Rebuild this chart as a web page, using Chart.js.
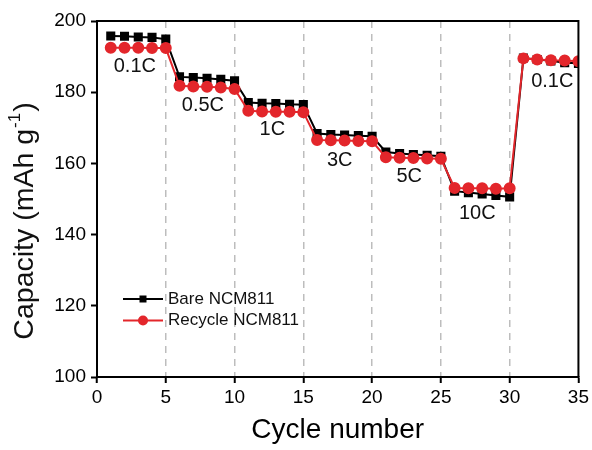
<!DOCTYPE html>
<html>
<head>
<meta charset="utf-8">
<script src="https://cdn.jsdelivr.net/npm/chart.js@4.4.1/dist/chart.umd.min.js"></script>
<style>
  html, body { margin: 0; padding: 0; background: #fff; }
  #wrap { width: 592px; height: 450px; position: relative; }
</style>
</head>
<body>
<div id="wrap"><canvas id="rateChart"></canvas></div>
<script>
// rate capability data
const cycles = [1,2,3,4,5,6,7,8,9,10,11,12,13,14,15,16,17,18,19,20,21,22,23,24,25,26,27,28,29,30,31,32,33,34,35];
const bareNCM811 = [
  195.8,195.7,195.5,195.4,194.9,
  184.3,184.1,183.9,183.6,183.2,
  177.1,176.9,176.8,176.6,176.5,
  168.4,168.1,168.0,167.8,167.6,
  163.2,162.8,162.5,162.3,162.0,
  152.2,151.8,151.4,151.0,150.6,
  189.6,189.2,188.8,188.3,188.1
];
const recycleNCM811 = [
  192.5,192.5,192.5,192.4,192.4,
  181.8,181.6,181.5,181.3,180.9,
  174.8,174.6,174.5,174.5,174.4,
  166.6,166.5,166.4,166.3,166.2,
  161.7,161.6,161.5,161.4,161.3,
  153.1,153.0,153.0,152.9,153.0,
  189.5,189.2,189.0,188.9,188.7
];
const rateLabels = ['0.1C','0.5C','1C','3C','5C','10C','0.1C'];
const rateLabelX = [2.75, 7.7, 12.75, 17.65, 22.7, 27.65, 33.1];
const rateLabelY = [187.2, 176.4, 169.6, 160.9, 156.3, 145.8, 182.9];
const seriesNames = ['Bare NCM811', 'Recycle NCM811'];
const xTicks = [0,5,10,15,20,25,30,35];
const yTicks = [100,120,140,160,180,200];

const FONT = "'Liberation Sans', Arial, sans-serif";
const RED = '#e3262b';

const extras = {
  id: 'extras',
  afterDraw(chart) {
    const ctx = chart.ctx, a = chart.chartArea;
    const xs = chart.scales.x, ys = chart.scales.y;
    ctx.save();
    // top + right frame
    ctx.strokeStyle = '#000'; ctx.lineWidth = 2;
    ctx.beginPath();
    ctx.moveTo(a.left, a.top); ctx.lineTo(a.right, a.top); ctx.lineTo(a.right, a.bottom);
    ctx.stroke();

    // C-rate labels
    ctx.fillStyle = '#111';
    ctx.font = '20px ' + FONT;
    ctx.textAlign = 'center'; ctx.textBaseline = 'middle';
    rateLabels.forEach((t, i) => {
      ctx.fillText(t, xs.getPixelForValue(rateLabelX[i]), ys.getPixelForValue(rateLabelY[i]));
    });

    // legend
    const lx = 123, lw = 40;
    const rows = [{y: 299, color: '#000', pt: 'rect'}, {y: 320.5, color: RED, pt: 'circle'}];
    rows.forEach((r, i) => {
      ctx.strokeStyle = r.color; ctx.lineWidth = 2;
      ctx.beginPath(); ctx.moveTo(lx, r.y); ctx.lineTo(lx + lw, r.y); ctx.stroke();
      ctx.fillStyle = r.color;
      if (r.pt === 'rect') ctx.fillRect(lx + lw/2 - 3.5, r.y - 3.5, 7, 7);
      else { ctx.beginPath(); ctx.arc(lx + lw/2, r.y, 5, 0, Math.PI*2); ctx.fill(); }
      ctx.fillStyle = '#111';
      ctx.font = '17px ' + FONT;
      ctx.textAlign = 'left';
      ctx.fillText(seriesNames[i], lx + lw + 5, r.y);
    });

    // y axis title with superscript
    ctx.translate(23, 221);
    ctx.rotate(-Math.PI/2);
    const big = '28.5px ' + FONT, small = '17px ' + FONT;
    const p1 = 'Capacity (mAh g', sup = '-1', p2 = ')';
    ctx.font = big; const w1 = ctx.measureText(p1).width, w3 = ctx.measureText(p2).width;
    ctx.font = small; const w2 = ctx.measureText(sup).width;
    let x0 = -(w1 + w2 + w3 + 2) / 2;
    ctx.textAlign = 'left'; ctx.textBaseline = 'alphabetic';
    ctx.fillStyle = '#111';
    ctx.font = big; ctx.fillText(p1, x0, 10);
    ctx.font = small; ctx.fillText(sup, x0 + w1 + 1, -3);
    ctx.font = big; ctx.fillText(p2, x0 + w1 + w2 + 2, 10);
    ctx.restore();
  }
};

new Chart(document.getElementById('rateChart'), {
  type: 'line',
  data: {
    labels: cycles,
    datasets: [
      {
        label: seriesNames[0], data: bareNCM811.map((v, i) => ({x: cycles[i], y: v})),
        borderColor: '#000', backgroundColor: '#000', borderWidth: 2,
        pointStyle: 'rect', pointRadius: 5, pointHoverRadius: 5, order: 2, clip: 0
      },
      {
        label: seriesNames[1], data: recycleNCM811.map((v, i) => ({x: cycles[i], y: v})),
        borderColor: RED, backgroundColor: RED, borderWidth: 2,
        pointStyle: 'circle', pointRadius: 5, pointHoverRadius: 5, order: 1, clip: 0
      }
    ]
  },
  options: {
    responsive: true, maintainAspectRatio: false, animation: false,
    layout: { padding: { left: 0, right: 12.5, top: 21, bottom: 0 } },
    plugins: { legend: { display: false }, tooltip: { enabled: false } },
    scales: {
      x: {
        type: 'linear', min: 0, max: 35,
        afterBuildTicks: s => { s.ticks = xTicks.map(v => ({value: v})); },
        afterFit: s => { s.height = 73; },
        ticks: { color: '#000', font: { family: FONT, size: 19 }, padding: 3, maxRotation: 0 },
        grid: {
          color: c => (c.tick && c.tick.value > 0 && c.tick.value < 35) ? '#bdbdbd' : 'rgba(0,0,0,0)',
          lineWidth: 1.5, tickColor: '#000', tickWidth: 2, tickLength: 6
        },
        border: { color: '#000', width: 2, dash: [7, 6] },
        title: { display: true, text: 'Cycle number', color: '#000', font: { family: FONT, size: 28 }, padding: { top: 0, bottom: 3 } }
      },
      y: {
        min: 100, max: 200,
        afterBuildTicks: s => { s.ticks = yTicks.map(v => ({value: v})); },
        afterFit: s => { s.width = 97; },
        ticks: { color: '#000', font: { family: FONT, size: 19 }, padding: 5 },
        grid: { drawOnChartArea: false, tickColor: '#000', tickWidth: 2, tickLength: 6 },
        border: { color: '#000', width: 2 }
      }
    }
  },
  plugins: [extras]
});
</script>
</body>
</html>
